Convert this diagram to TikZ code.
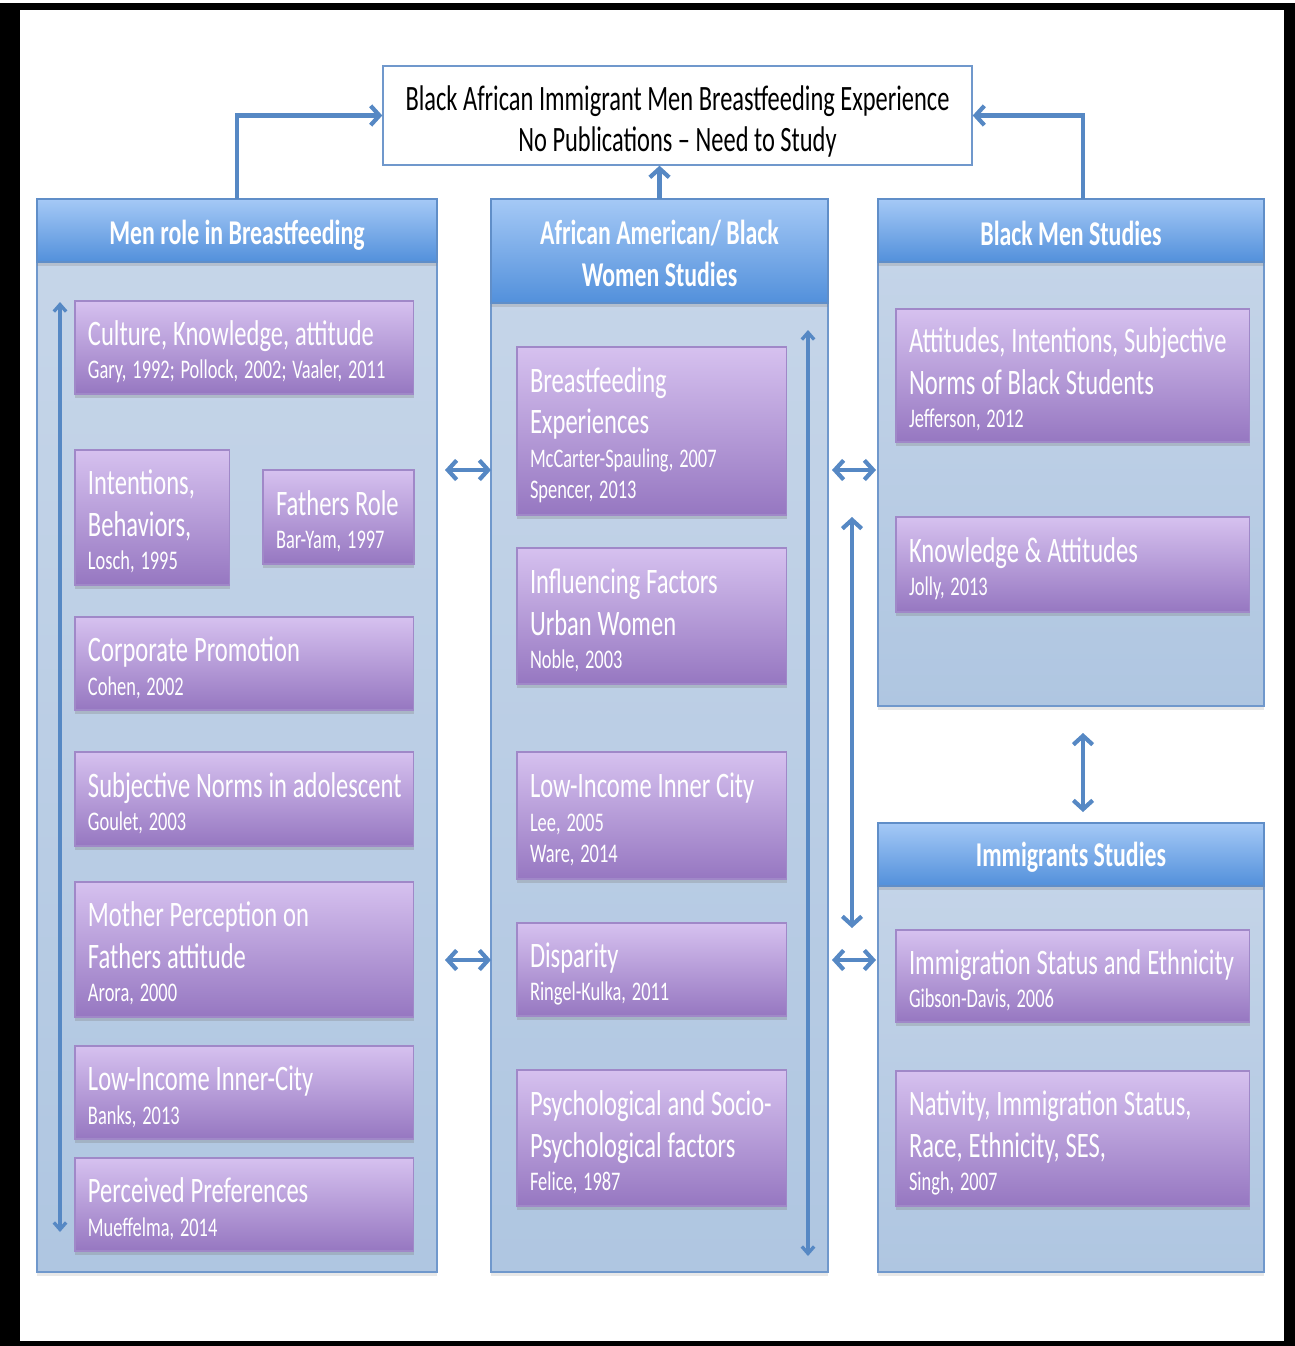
\documentclass[tikz,border=0pt]{standalone}
\usepackage{fontspec}
\setmainfont{Carlito}[FakeStretch=0.685]
\usetikzlibrary{arrows.meta,fit,shadows}
\definecolor{linkblue}{RGB}{86,136,196}
\definecolor{paneltop}{RGB}{199,214,233}
\definecolor{panelbot}{RGB}{175,198,225}
\definecolor{panelline}{RGB}{112,152,204}
\definecolor{headtop}{RGB}{165,201,246}
\definecolor{headbot}{RGB}{82,144,219}
\definecolor{headline}{RGB}{96,142,200}
\definecolor{ptop}{RGB}{214,193,239}
\definecolor{pbot}{RGB}{150,119,193}
\definecolor{pline}{RGB}{160,136,200}
\newcommand\bhead[1]{{\fontsize{20.4}{23.8}\selectfont\rule{0pt}{19pt}#1\par}}
\newcommand\bref[1]{{\fontsize{15.3}{18.1}\selectfont\vspace{0.8pt}#1\par}}
\begin{document}
\begin{tikzpicture}[x=0.02cm, y=-0.02cm,
    panel/.style={draw=panelline, line width=0.8pt, top color=paneltop, bottom color=panelbot,
        inner sep=0pt, outer sep=0pt, drop shadow={shadow xshift=0pt, shadow yshift=-2.5pt, opacity=0.18}},
    header/.style={draw=headline, line width=0.8pt, top color=headtop, bottom color=headbot,
        inner sep=0pt, outer sep=0pt,
        drop shadow={shadow xshift=0pt, shadow yshift=-2.5pt, opacity=0.25}},
    headtext/.style={text=white, align=center, inner sep=0pt, yshift=-1.5pt,
        font=\bfseries\fontsize{19.8}{23.8}\selectfont},
    pbox/.style={draw=pline, line width=0.6pt, top color=ptop, bottom color=pbot, text=white,
        inner xsep=0.26cm, inner ysep=0pt, outer sep=0pt, align=left, anchor=north west,
        drop shadow={shadow xshift=0pt, shadow yshift=-2.5pt, opacity=0.3}},
    pleft/.style={pbox, text width=6.26cm},
    pmid/.style={pbox, text width=4.88cm},
    pright/.style={pbox, text width=6.56cm},
    link/.style={draw=linkblue, line width=2.4pt, -{Straight Barb[length=5pt,width=11pt]}},
    twoway/.style={draw=linkblue, line width=2.4pt, {Straight Barb[length=5pt,width=11pt]}-{Straight Barb[length=5pt,width=11pt]}},
    longway/.style={draw=linkblue, line width=1.9pt, {Straight Barb[length=4pt,width=7pt]}-{Straight Barb[length=4pt,width=7pt]}}]
    \useasboundingbox (0,0) rectangle (1295,1346);
    \fill[black] (0,3) rectangle (1295,1346);
    \fill[white] (20,10) rectangle (1284,1341);

    \node[draw=panelline, line width=0.8pt, fill=white, inner sep=0pt, fit={(383,66) (972,165)},
        label={[align=center, inner sep=0pt, yshift=-3.4pt, font=\fontsize{20.3}{23.2}\selectfont]center:{Black African Immigrant Men Breastfeeding Experience\\No Publications -- Need to Study}}] (gap) {};

    \node[panel, fit={(37,199) (437,1272)}] (menpanel) {};
    \node[panel, fit={(491,199) (828,1272)}] (womenpanel) {};
    \node[panel, fit={(878,199) (1264,706)}] (blackpanel) {};
    \node[panel, fit={(878,823) (1264,1272)}] (immpanel) {};

    \node[header, fit={(37,199) (437,262)}, label={[headtext, yshift=-1pt]center:Men role in Breastfeeding}] (menhead) {};
    \node[header, fit={(491,199) (828,303)}, label={[headtext]center:{African American/ Black\\Women Studies}}] (womenhead) {};
    \node[header, fit={(878,199) (1264,262)}, label={[headtext]center:Black Men Studies}] (blackhead) {};
    \node[header, fit={(878,823) (1264,886)}, label={[headtext]center:Immigrants Studies}] (immhead) {};

    \node[pleft, minimum height=1.86cm] (culture) at (75,301)
        {\bhead{Culture, Knowledge, attitude}\bref{Gary, 1992; Pollock, 2002; Vaaler, 2011}};
    \node[pbox, text width=2.58cm, minimum height=2.7cm] (intent) at (75,450)
        {\bhead{Intentions,\\Behaviors,}\bref{Losch, 1995}};
    \node[pbox, text width=2.5cm, minimum height=1.88cm] (fathers) at (263,470)
        {\bhead{Fathers Role}\bref{Bar-Yam, 1997}};
    \node[pleft, minimum height=1.86cm] (corporate) at (75,617)
        {\bhead{Corporate Promotion}\bref{Cohen, 2002}};
    \node[pleft, minimum height=1.88cm] (norms) at (75,752)
        {\bhead{\mbox{Subjective Norms in adolescent}}\bref{Goulet, 2003}};
    \node[pleft, minimum height=2.7cm] (mother) at (75,882)
        {\bhead{Mother Perception on\\Fathers attitude}\bref{Arora, 2000}};
    \node[pleft, minimum height=1.86cm] (banks) at (75,1046)
        {\bhead{Low-Income Inner-City}\bref{Banks, 2013}};
    \node[pleft, minimum height=1.86cm] (perceived) at (75,1158)
        {\bhead{Perceived Preferences}\bref{Mueffelma, 2014}};

    \node[pmid, minimum height=3.36cm] (bfexp) at (517,347)
        {\bhead{Breastfeeding\\Experiences}\bref{McCarter-Spauling, 2007\\Spencer, 2013}};
    \node[pmid, minimum height=2.72cm] (urban) at (517,548)
        {\bhead{Influencing Factors\\Urban Women}\bref{Noble, 2003}};
    \node[pmid, minimum height=2.54cm] (inner) at (517,752)
        {\bhead{Low-Income Inner City}\bref{Lee, 2005\\Ware, 2014}};
    \node[pmid, minimum height=1.86cm] (disparity) at (517,923)
        {\bhead{Disparity}\bref{Ringel-Kulka, 2011}};
    \node[pmid, minimum height=2.72cm] (psych) at (517,1070)
        {\bhead{Psychological and Socio-\\Psychological factors}\bref{Felice, 1987}};

    \node[pright, minimum height=2.66cm] (students) at (896,309)
        {\bhead{Attitudes, Intentions, Subjective\\Norms of Black Students}\bref{Jefferson, 2012}};
    \node[pright, minimum height=1.9cm] (knowledge) at (896,517)
        {\bhead{Knowledge \& Attitudes}\bref{Jolly, 2013}};
    \node[pright, minimum height=1.84cm] (status) at (896,930)
        {\bhead{\mbox{Immigration Status and Ethnicity}}\bref{Gibson-Davis, 2006}};
    \node[pright, minimum height=2.7cm] (nativity) at (896,1071)
        {\bhead{Nativity, Immigration Status,\\Race, Ethnicity, SES,}\bref{Singh, 2007}};

    \path (1083,0) coordinate (rightx);
    \path (0,470) coordinate (rowA);
    \path (0,960) coordinate (rowB);
    \path (60,302) coordinate (menTop);
    \path (60,1232) coordinate (menBot);
    \path (808,330) coordinate (womenTop);
    \path (808,1256) coordinate (womenBot);
    \path (852,517) coordinate (gapTop);
    \path (852,928) coordinate (gapBot);

    \draw[link] (menhead.north) |- (gap.west);
    \draw[link] (blackhead.north -| rightx) |- (gap.east);
    \draw[link] (womenhead.north) -- (womenhead.north |- gap.south);
    \draw[twoway, shorten <=0.16cm] (menpanel.east |- rowA) -- (womenpanel.west |- rowA);
    \draw[twoway, shorten <=0.16cm] (menpanel.east |- rowB) -- (womenpanel.west |- rowB);
    \draw[twoway, shorten <=0.08cm, shorten >=0.04cm] (womenpanel.east |- rowA) -- (blackpanel.west |- rowA);
    \draw[twoway, shorten <=0.08cm, shorten >=0.04cm] (womenpanel.east |- rowB) -- (immpanel.west |- rowB);
    \draw[twoway] (gapTop) -- (gapBot);
    \draw[twoway, shorten <=0.54cm, shorten >=0.22cm] (blackpanel.south -| rightx) -- (immhead.north -| rightx);
    \draw[longway] (menTop) -- (menBot);
    \draw[longway] (womenTop) -- (womenBot);
\end{tikzpicture}
\end{document}
